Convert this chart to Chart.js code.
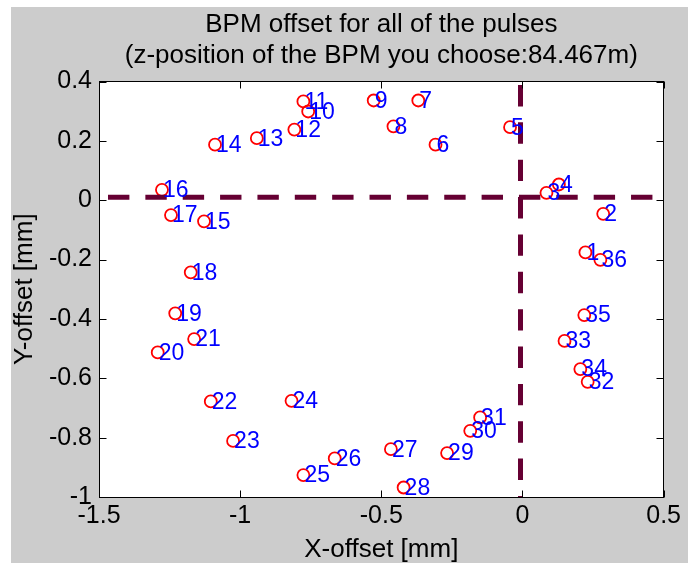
<!DOCTYPE html>
<html>
<head>
<meta charset="utf-8">
<script src="https://cdn.jsdelivr.net/npm/chart.js@4"></script>
<style>
  html, body { margin: 0; padding: 0; background: #ffffff; }
  #wrap { width: 688px; height: 563px; }
</style>
</head>
<body>
<div id="wrap"><canvas id="c" width="688" height="563"></canvas></div>
<script>
// ---- data ----
const pulseLabels = ['1','2','3','4','5','6','7','8','9','10','11','12','13','14','15','16','17','18',
  '19','20','21','22','23','24','25','26','27','28','29','30','31','32','33','34','35','36'];
const xOffsets = [0.223, 0.286, 0.085, 0.129, -0.044, -0.308, -0.369, -0.457, -0.527, -0.759, -0.776, -0.808,
  -0.941, -1.089, -1.128, -1.277, -1.245, -1.175, -1.230, -1.292, -1.163, -1.104, -1.025, -0.818,
  -0.776, -0.665, -0.466, -0.421, -0.267, -0.185, -0.150, 0.231, 0.149, 0.205, 0.219, 0.276];
const yOffsets = [-0.176, -0.046, 0.025, 0.053, 0.246, 0.187, 0.336, 0.249, 0.336, 0.299, 0.333, 0.238,
  0.209, 0.187, -0.071, 0.035, -0.050, -0.243, -0.381, -0.513, -0.468, -0.678, -0.811, -0.676,
  -0.926, -0.870, -0.839, -0.968, -0.852, -0.777, -0.732, -0.612, -0.474, -0.569, -0.387, -0.201];
const refLineX = -0.007;   // vertical dashed reference line
const refLineY = 0.01;     // horizontal dashed reference line
const xRange = [-1.5, 0.5];
const yRange = [-1, 0.4];
const xTickValues = [-1.5, -1, -0.5, 0, 0.5];
const xTickLabels = ['-1.5', '-1', '-0.5', '0', '0.5'];
const yTickValues = [-1, -0.8, -0.6, -0.4, -0.2, 0, 0.2, 0.4];
const yTickLabels = ['-1', '-0.8', '-0.6', '-0.4', '-0.2', '0', '0.2', '0.4'];
const titleLines = ['BPM offset for all of the pulses', '(z-position of the BPM you choose:84.467m)'];
const xTitle = 'X-offset [mm]';
const yTitle = 'Y-offset [mm]';

const FONT = "'Liberation Sans', Arial, Helvetica, sans-serif";
const DASH = [21.4, 15.96];

const points = xOffsets.map((x, i) => ({ x: x, y: yOffsets[i] }));

const bgPlugin = {
  id: 'bg',
  beforeDraw(chart) {
    const { ctx, chartArea: a } = chart;
    ctx.save();
    ctx.fillStyle = '#ffffff';
    ctx.fillRect(0, 0, chart.width, chart.height);
    ctx.fillStyle = '#cccccc';
    ctx.fillRect(11, 7, chart.width - 11, chart.height - 7);
    ctx.fillStyle = '#ffffff';
    ctx.fillRect(a.left, a.top, a.right - a.left, a.bottom - a.top);
    ctx.restore();
  }
};

const labelPlugin = {
  id: 'pointLabels',
  afterDatasetsDraw(chart) {
    const { ctx } = chart;
    const meta = chart.getDatasetMeta(0);
    ctx.save();
    ctx.fillStyle = '#0000ff';
    ctx.font = '23px ' + FONT;
    ctx.textAlign = 'left';
    ctx.textBaseline = 'middle';
    meta.data.forEach((el, i) => {
      ctx.fillText(pulseLabels[i], el.x + 1, el.y + 1);
    });
    ctx.restore();
  }
};

const framePlugin = {
  id: 'frame',
  afterDraw(chart) {
    const { ctx, chartArea: a, scales } = chart;
    const L = Math.floor(a.left) + 0.5, R = Math.floor(a.right) + 0.5;
    const T = Math.floor(a.top) + 0.5, B = Math.floor(a.bottom) + 0.5;
    ctx.save();
    ctx.strokeStyle = '#000000';
    ctx.lineWidth = 1;
    ctx.beginPath();
    const tl = 7;
    xTickValues.forEach(v => {
      const px = Math.round(scales.x.getPixelForValue(v)) + 0.5;
      ctx.moveTo(px, B); ctx.lineTo(px, B - tl);
      ctx.moveTo(px, T); ctx.lineTo(px, T + tl);
    });
    yTickValues.forEach(v => {
      const py = Math.round(scales.y.getPixelForValue(v)) + 0.5;
      ctx.moveTo(L, py); ctx.lineTo(L + tl, py);
      ctx.moveTo(R, py); ctx.lineTo(R - tl, py);
    });
    ctx.stroke();
    ctx.strokeRect(L, T, R - L, B - T);
    ctx.restore();
  }
};

new Chart(document.getElementById('c'), {
  type: 'scatter',
  data: {
    datasets: [
      {
        label: 'pulses',
        data: points,
        order: 2,
        showLine: false,
        pointStyle: 'circle',
        pointRadius: 6,
        pointBorderWidth: 1.8,
        pointBorderColor: '#ff0000',
        pointBackgroundColor: 'rgba(0,0,0,0)'
      },
      {
        label: 'hline',
        data: [{ x: xRange[0], y: refLineY }, { x: xRange[1], y: refLineY }],
        order: 1,
        showLine: true,
        pointRadius: 0,
        borderColor: '#660033',
        borderWidth: 5,
        borderDash: DASH,
        borderDashOffset: 28.36,
        borderCapStyle: 'butt'
      },
      {
        label: 'vline',
        data: [{ x: refLineX, y: yRange[1] }, { x: refLineX, y: yRange[0] }],
        order: 1,
        showLine: true,
        pointRadius: 0,
        borderColor: '#660033',
        borderWidth: 5,
        borderDash: DASH,
        borderDashOffset: 33.86,
        borderCapStyle: 'butt'
      }
    ]
  },
  options: {
    responsive: false,
    animation: false,
    events: [],
    devicePixelRatio: 1,
    layout: { padding: { left: 0, right: 20, top: 0, bottom: 0 } },
    plugins: {
      legend: { display: false },
      tooltip: { enabled: false },
      title: {
        display: true,
        fullSize: false,
        text: titleLines,
        color: '#000000',
        font: { family: FONT, size: 26, weight: 'normal', lineHeight: 31 / 26 },
        padding: { top: 9, bottom: 10.5 }
      }
    },
    scales: {
      x: {
        type: 'linear',
        min: xRange[0],
        max: xRange[1],
        grid: { display: false, drawTicks: false },
        border: { display: false },
        afterBuildTicks(s) { s.ticks = xTickValues.map(v => ({ value: v })); },
        afterFit(s) { s.height = 66; },
        ticks: {
          color: '#000000',
          padding: 7,
          maxRotation: 0,
          autoSkip: false,
          font: { family: FONT, size: 25, lineHeight: 1 },
          callback: (v) => xTickLabels[xTickValues.indexOf(v)]
        },
        title: {
          display: true,
          text: xTitle,
          color: '#000000',
          font: { family: FONT, size: 26, lineHeight: 1 },
          padding: { top: 0, bottom: 0 }
        }
      },
      y: {
        type: 'linear',
        min: yRange[0],
        max: yRange[1],
        grid: { display: false, drawTicks: false },
        border: { display: false },
        afterBuildTicks(s) { s.ticks = yTickValues.map(v => ({ value: v })); },
        afterFit(s) { s.width = 99; },
        ticks: {
          color: '#000000',
          padding: 7,
          autoSkip: false,
          font: { family: FONT, size: 25, lineHeight: 1 },
          callback: (v) => yTickLabels[yTickValues.indexOf(v)]
        },
        title: {
          display: true,
          text: yTitle,
          color: '#000000',
          font: { family: FONT, size: 26, lineHeight: 1 },
          padding: { top: 12, bottom: 0 }
        }
      }
    }
  },
  plugins: [bgPlugin, labelPlugin, framePlugin]
});
</script>
</body>
</html>
